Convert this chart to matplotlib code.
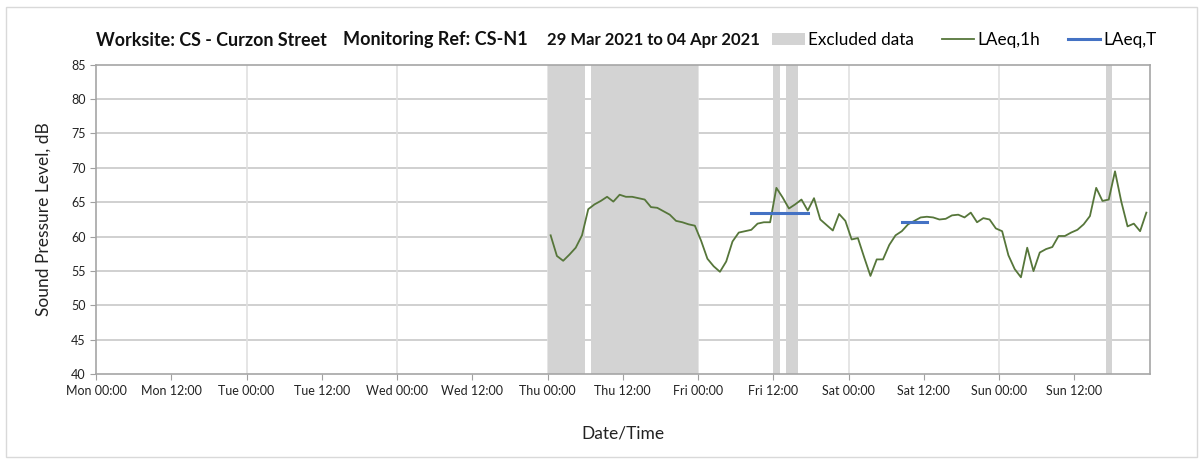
import matplotlib
matplotlib.use("Agg")
import matplotlib.pyplot as plt
from matplotlib.patches import Patch, Rectangle
from matplotlib.lines import Line2D
import numpy as np

# ---- data ----
hours = list(range(72, 168))  # hours since Mon 00:00
laeq_1h = [
    60.2, 57.2, 56.5, 57.4, 58.4, 60.2, 64.0, 64.7, 65.2, 65.8, 65.1, 66.1,
    65.8, 65.8, 65.6, 65.4, 64.3, 64.2, 63.7, 63.2, 62.3, 62.1, 61.8, 61.6,
    59.4, 56.8, 55.7, 54.9, 56.4, 59.3, 60.6, 60.8, 61.0, 61.9, 62.1, 62.1,
    67.1, 65.7, 64.1, 64.7, 65.4, 63.8, 65.6, 62.5, 61.7, 60.9, 63.3, 62.3,
    59.6, 59.8, 57.0, 54.3, 56.7, 56.7, 58.8, 60.2, 60.8, 61.8, 62.3, 62.8,
    62.9, 62.8, 62.5, 62.6, 63.1, 63.2, 62.8, 63.5, 62.1, 62.7, 62.5, 61.2,
    60.8, 57.3, 55.3, 54.1, 58.4, 55.0, 57.7, 58.2, 58.5, 60.1, 60.1, 60.6,
    61.0, 61.8, 63.0, 67.1, 65.2, 65.4, 69.5, 65.1, 61.5, 61.9, 60.8, 63.5,
]
excl_start = [72, 79, 108, 110, 161]
excl_end = [78, 96, 109, 112, 162]
laeqT_start = [104, 128]
laeqT_end = [113, 132]
laeqT_values = [63.5, 62.2]
tick_labels = ["Mon 00:00", "Mon 12:00", "Tue 00:00", "Tue 12:00", "Wed 00:00",
               "Wed 12:00", "Thu 00:00", "Thu 12:00", "Fri 00:00", "Fri 12:00",
               "Sat 00:00", "Sat 12:00", "Sun 00:00", "Sun 12:00"]
title_parts = ["Worksite: CS - Curzon Street", "Monitoring Ref: CS-N1",
               "29 Mar 2021 to 04 Apr 2021"]

plt.rcParams['font.family'] = ['Lato', 'DejaVu Sans']

W, H = 1203, 459
fig = plt.figure(figsize=(W / 100, H / 100), dpi=100)
fig.patch.set_facecolor("white")
ax = fig.add_axes([96 / W, 1 - 374.3 / H, (1149.5 - 96) / W, (374.3 - 64.7) / H])

# outer frame
fig.patches.append(Rectangle((6 / W, 2 / H), (1197 - 6) / W, (452 - 2) / H,
                             transform=fig.transFigure, fill=False,
                             edgecolor="#d9d9d9", linewidth=1))

green = "#56763a"
blue = "#4472c4"
grey = "#d3d3d3"

for s, e in zip(excl_start, excl_end):
    ax.axvspan(s, e, color=grey, lw=0, zorder=1)

x = np.array(hours) + 0.5
ax.plot(x, laeq_1h, color=green, lw=1.3, zorder=3)
for s, e, v in zip(laeqT_start, laeqT_end, laeqT_values):
    ax.plot([s + 0.5, e + 0.5], [v, v], color=blue, lw=2.2, zorder=4)

ax.set_xlim(0, 168)
ax.set_ylim(40, 85)
ax.set_yticks(np.arange(40, 86, 5))
ax.set_xticks(np.arange(0, len(tick_labels) * 12, 12))
ax.set_xticklabels(tick_labels, fontsize=9)
ax.tick_params(axis='y', labelsize=9, length=4, color="#a0a0a0", colors="#222222")
ax.tick_params(axis='x', length=4, color="#a0a0a0", colors="#222222", pad=4)

for yv in range(45, 85, 5):
    ax.axhline(yv, color="#c8c8c8", lw=1.2, zorder=0.5)
for xv in range(24, 168, 24):
    ax.axvline(xv, color="#e0e0e0", lw=1.2, zorder=0.5)

for sp in ax.spines.values():
    sp.set_color("#a6a6a6")
    sp.set_linewidth(1.2)

ax.set_ylabel("Sound Pressure Level, dB", fontsize=12.5, color="#222222", labelpad=14)
ax.set_xlabel("Date/Time", fontsize=12.5, color="#222222", labelpad=20)

# title pieces, fitted to the reference widths
fig.canvas.draw()
renderer = fig.canvas.get_renderer()
targets = [(96, 326), (343, 526), (547, 760)]
for txt, (x0, x1) in zip(title_parts, targets):
    t = fig.text(x0 / W, 1 - 40 / H, txt, fontsize=12, fontweight="bold",
                 va="center", ha="left", color="#111111")
    w = t.get_window_extent(renderer).width
    t.set_fontsize(12 * (x1 - x0) / w)

handles = [Patch(facecolor=grey, edgecolor="none", label="Excluded data"),
           Line2D([], [], color=green, lw=1.3, label="LAeq,1h"),
           Line2D([], [], color=blue, lw=2.2, label="LAeq,T")]
fig.legend(handles=handles, loc="center right", bbox_to_anchor=(1172 / W, 1 - 40 / H),
           ncol=3, frameon=False, fontsize=12.3, handlelength=1.9,
           handletextpad=0.2, columnspacing=1.6)

fig.savefig("out.png", dpi=100)
